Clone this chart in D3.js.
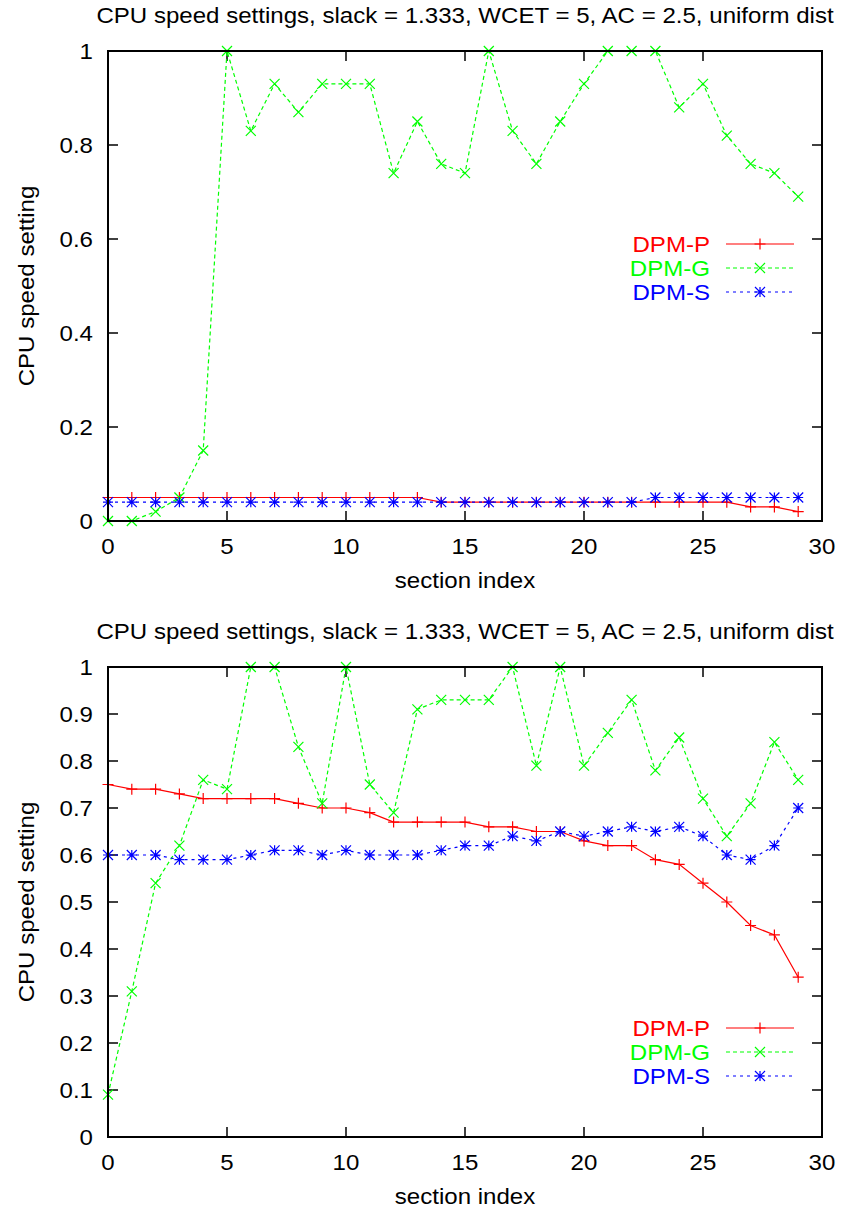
<!DOCTYPE html>
<html>
<head>
<meta charset="utf-8">
<script src="https://cdn.jsdelivr.net/npm/d3@7"></script>
<style>
  body { margin: 0; background: #fff; }
  svg { display: block; }
  text { font-family: "Liberation Sans", Arial, sans-serif; }
</style>
</head>
<body>
<svg id="chart" width="841" height="1211"></svg>
<script>
// data
let sectionIndex = d3.range(0, 30);
let titleText = "CPU speed settings, slack = 1.333, WCET = 5, AC = 2.5, uniform dist";
let seriesNames = ["DPM-P", "DPM-G", "DPM-S"];

// top chart
let topP = [0.05, 0.05, 0.05, 0.05, 0.05, 0.05, 0.05, 0.05, 0.05, 0.05,
  0.05, 0.05, 0.05, 0.05, 0.04, 0.04, 0.04, 0.04, 0.04, 0.04,
  0.04, 0.04, 0.04, 0.04, 0.04, 0.04, 0.04, 0.03, 0.03, 0.02];
let topG = [0, 0, 0.02, 0.05, 0.15, 1, 0.83, 0.93, 0.87, 0.93,
  0.93, 0.93, 0.74, 0.85, 0.76, 0.74, 1, 0.83, 0.76, 0.85,
  0.93, 1, 1, 1, 0.88, 0.93, 0.82, 0.76, 0.74, 0.69];
let topS = [0.04, 0.04, 0.04, 0.04, 0.04, 0.04, 0.04, 0.04, 0.04, 0.04,
  0.04, 0.04, 0.04, 0.04, 0.04, 0.04, 0.04, 0.04, 0.04, 0.04,
  0.04, 0.04, 0.04, 0.05, 0.05, 0.05, 0.05, 0.05, 0.05, 0.05];
let topYTicks = [0, 0.2, 0.4, 0.6, 0.8, 1];

// bottom chart
let botP = [0.75, 0.74, 0.74, 0.73, 0.72, 0.72, 0.72, 0.72, 0.71, 0.70,
  0.70, 0.69, 0.67, 0.67, 0.67, 0.67, 0.66, 0.66, 0.65, 0.65,
  0.63, 0.62, 0.62, 0.59, 0.58, 0.54, 0.50, 0.45, 0.43, 0.34];
let botG = [0.09, 0.31, 0.54, 0.62, 0.76, 0.74, 1, 1, 0.83, 0.71,
  1, 0.75, 0.69, 0.91, 0.93, 0.93, 0.93, 1, 0.79, 1,
  0.79, 0.86, 0.93, 0.78, 0.85, 0.72, 0.64, 0.71, 0.84, 0.76];
let botS = [0.60, 0.60, 0.60, 0.59, 0.59, 0.59, 0.60, 0.61, 0.61, 0.60,
  0.61, 0.60, 0.60, 0.60, 0.61, 0.62, 0.62, 0.64, 0.63, 0.65,
  0.64, 0.65, 0.66, 0.65, 0.66, 0.64, 0.60, 0.59, 0.62, 0.70];
let botYTicks = [0, 0.1, 0.2, 0.3, 0.4, 0.5, 0.6, 0.7, 0.8, 0.9, 1];

let xTicks = [0, 5, 10, 15, 20, 25, 30];

// series styles
let styles = [
  { color: "#ff0000", dash: null, marker: "plus" },
  { color: "#00ff00", dash: "4,3", marker: "cross" },
  { color: "#0000ff", dash: "3,4", marker: "star" }
];

let svg = d3.select("#chart");

let plotLeft = 108;
let plotRight = 822;
let plotHeight = 470;
let fontSize = 21.5;
let stretch = 1.12; // reference text is a bit wide

drawChart(51, [topP, topG, topS], topYTicks, 244);
drawChart(667, [botP, botG, botS], botYTicks, 1028);

function markerPath(type, s) {
  if (type === "plus") {
    return `M${-s},0H${s}M0,${-s}V${s}`;
  }
  if (type === "cross") {
    return `M${-s},${-s}L${s},${s}M${-s},${s}L${s},${-s}`;
  }
  // star = plus + cross
  return `M${-s},0H${s}M0,${-s}V${s}M${-s},${-s}L${s},${s}M${-s},${s}L${s},${-s}`;
}

function addText(g, x, y, str, anchor, color, rotate) {
  let tr = `translate(${x},${y})` + (rotate ? ` rotate(${rotate})` : "") + ` scale(${stretch},1)`;
  return g.append("text").
  attr("transform", tr).
  attr("dy", "0.35em").
  attr("text-anchor", anchor).
  attr("font-size", fontSize).
  attr("fill", color || "#000").
  text(str);
}

function drawChart(top, series, yTicks, legendY) {
  let g = svg.append("g");

  let x = d3.scaleLinear().domain([0, 30]).range([plotLeft, plotRight]);
  let y = d3.scaleLinear().domain([0, 1]).range([top + plotHeight, top]);
  let bottom = top + plotHeight;
  let tickLen = 10;

  // title
  addText(g, (plotLeft + plotRight) / 2, top - 36, titleText, "middle");

  // y ticks (mirrored on right)
  yTicks.forEach(t => {
    g.append("line").
    attr("x1", plotLeft).attr("x2", plotLeft + tickLen).
    attr("y1", y(t)).attr("y2", y(t)).
    attr("stroke", "#000").attr("stroke-width", 1.5);
    g.append("line").
    attr("x1", plotRight).attr("x2", plotRight - tickLen).
    attr("y1", y(t)).attr("y2", y(t)).
    attr("stroke", "#000").attr("stroke-width", 1.5);
    addText(g, plotLeft - 15, y(t), t, "end");
  });

  // x ticks (mirrored on top)
  xTicks.forEach(t => {
    g.append("line").
    attr("x1", x(t)).attr("x2", x(t)).
    attr("y1", bottom).attr("y2", bottom - tickLen).
    attr("stroke", "#000").attr("stroke-width", 1.5);
    g.append("line").
    attr("x1", x(t)).attr("x2", x(t)).
    attr("y1", top).attr("y2", top + tickLen).
    attr("stroke", "#000").attr("stroke-width", 1.5);
    addText(g, x(t), bottom + 25, t, "middle");
  });

  // axis labels
  addText(g, (plotLeft + plotRight) / 2, bottom + 59, "section index", "middle");
  addText(g, 26, (top + bottom) / 2, "CPU speed setting", "middle", null, -90);

  // lines and markers
  let line = d3.line().
  x((d, i) => x(sectionIndex[i])).
  y(d => y(d));

  series.forEach((vals, k) => {
    let st = styles[k];
    g.append("path").
    datum(vals).
    attr("d", line).
    attr("fill", "none").
    attr("stroke", st.color).
    attr("stroke-width", 1.2).
    attr("stroke-dasharray", st.dash);

    g.selectAll(null).
    data(vals).
    enter().
    append("path").
    attr("transform", (d, i) => `translate(${x(sectionIndex[i])},${y(d)})`).
    attr("d", markerPath(st.marker, st.marker === "plus" ? 5.5 : 5)).
    attr("stroke", st.color).
    attr("stroke-width", 1.2).
    attr("fill", "none");
  });

  // legend
  series.forEach((vals, k) => {
    let st = styles[k];
    let ly = legendY + k * 24;
    addText(g, 710, ly, seriesNames[k], "end", st.color);
    g.append("line").
    attr("x1", 726).attr("x2", 794).
    attr("y1", ly).attr("y2", ly).
    attr("stroke", st.color).
    attr("stroke-width", 1.2).
    attr("stroke-dasharray", st.dash);
    g.append("path").
    attr("transform", `translate(760,${ly})`).
    attr("d", markerPath(st.marker, st.marker === "plus" ? 5.5 : 5)).
    attr("stroke", st.color).
    attr("stroke-width", 1.2).
    attr("fill", "none");
  });

  // frame
  g.append("rect").
  attr("x", plotLeft).
  attr("y", top).
  attr("width", plotRight - plotLeft).
  attr("height", plotHeight).
  attr("fill", "none").
  attr("stroke", "#000").
  attr("stroke-width", 2);
}
</script>
</body>
</html>
